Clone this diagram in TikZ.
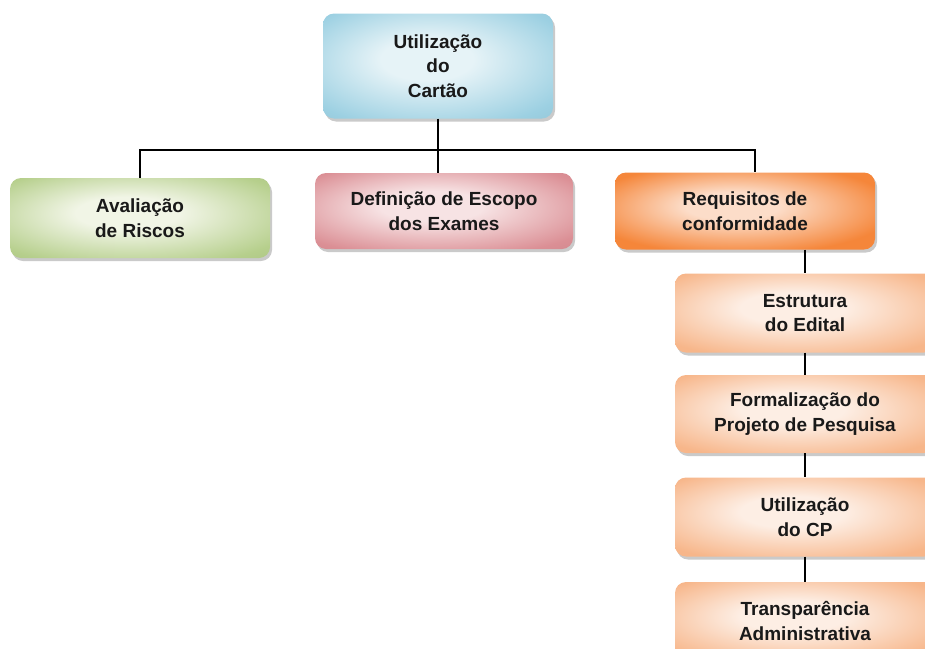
\documentclass[tikz,border=0pt]{standalone}
\usepackage{fontspec}
\setmainfont{Liberation Sans}
\usepackage{xcolor}
\usetikzlibrary{shadows}

\definecolor{blueedge}{HTML}{9CD0E2}
\definecolor{bluemid}{HTML}{E6F3F7}
\definecolor{greenedge}{HTML}{B6CF8C}
\definecolor{greenmid}{HTML}{F1F5E6}
\definecolor{rededge}{HTML}{DB8F95}
\definecolor{redmid}{HTML}{F7E3E4}
\definecolor{orangeedge}{HTML}{F5863A}
\definecolor{orangemid}{HTML}{FCDDC9}
\definecolor{peachedge}{HTML}{F7B68A}
\definecolor{peachmid}{HTML}{FDEEE4}

% sombreamentos suaves (claro no meio, escuro nos cantos)
\pgfdeclareradialshading{bluesh}{\pgfpoint{-3bp}{4bp}}{color(0bp)=(bluemid); color(10bp)=(bluemid); color(32bp)=(blueedge); color(50bp)=(blueedge!88!black)}
\pgfdeclareradialshading{greensh}{\pgfpoint{-3bp}{4bp}}{color(0bp)=(greenmid); color(10bp)=(greenmid); color(32bp)=(greenedge); color(50bp)=(greenedge!88!black)}
\pgfdeclareradialshading{redsh}{\pgfpoint{-3bp}{4bp}}{color(0bp)=(redmid); color(10bp)=(redmid); color(32bp)=(rededge); color(50bp)=(rededge!88!black)}
\pgfdeclareradialshading{orangesh}{\pgfpoint{-3bp}{4bp}}{color(0bp)=(orangemid); color(9bp)=(orangemid); color(30bp)=(orangeedge); color(50bp)=(orangeedge)}
\pgfdeclareradialshading{peachsh}{\pgfpoint{-3bp}{4bp}}{color(0bp)=(peachmid); color(10bp)=(peachmid); color(32bp)=(peachedge); color(50bp)=(peachedge)}

\tikzset{
  box/.style={rounded corners=11pt, minimum width=260pt, minimum height=78pt,
    align=center, text=black!90, inner sep=4pt,
    font=\bfseries\fontsize{19}{24.5}\selectfont,
    drop shadow={shadow xshift=2pt, shadow yshift=-3pt, opacity=0.35, fill=black!60}},
  bluebox/.style={box, shading=bluesh},
  greenbox/.style={box, shading=greensh},
  redbox/.style={box, shading=redsh},
  orangebox/.style={box, shading=orangesh},
  peachbox/.style={box, shading=peachsh},
  link/.style={draw=black, line width=1.1pt}
}

\begin{document}
\begin{tikzpicture}[x=1pt, y=1pt]
    \useasboundingbox (0,0) rectangle (925,-648);
    \clip (0,0) rectangle (925,-648);

    % topo
    \node[bluebox, minimum width=230pt, minimum height=105pt] (uso) at (438,-66) {Utilização\\do\\Cartão};

    % primeiro nivel
    \node[greenbox, minimum height=80pt] (aval) at (140,-218) {Avaliação\\de Riscos};
    \node[redbox, minimum width=258pt, minimum height=76pt] (def) at (444,-211) {Definição de Escopo\\dos Exames};
    \node[orangebox, minimum height=77pt] (req) at (745,-211) {Requisitos de\\conformidade};

    % requisitos
    \node[peachbox, minimum height=79pt] (estr) at (805,-313) {Estrutura\\do Edital};
    \node[peachbox] (form) at (805,-414) {Formalização do\\Projeto de Pesquisa};
    \node[peachbox, minimum height=79pt] (cp) at (805,-517) {Utilização\\do CP};
    \node[peachbox] (transp) at (805,-621) {Transparência\\Administrativa};

    % ligacoes
    \draw[link] (uso.south) -- (uso.south |- 0,-150) coordinate (bus);
    \draw[link] (aval.north) |- (bus) -| ([xshift=10pt]req.north);
    \draw[link] (bus) -- (bus |- def.north);
    \draw[link] (req.south -| estr.north) -- (estr.north);
    \foreach \a/\b in {estr/form, form/cp, cp/transp}
        \draw[link] (\a) -- (\b);

\end{tikzpicture}
\end{document}
